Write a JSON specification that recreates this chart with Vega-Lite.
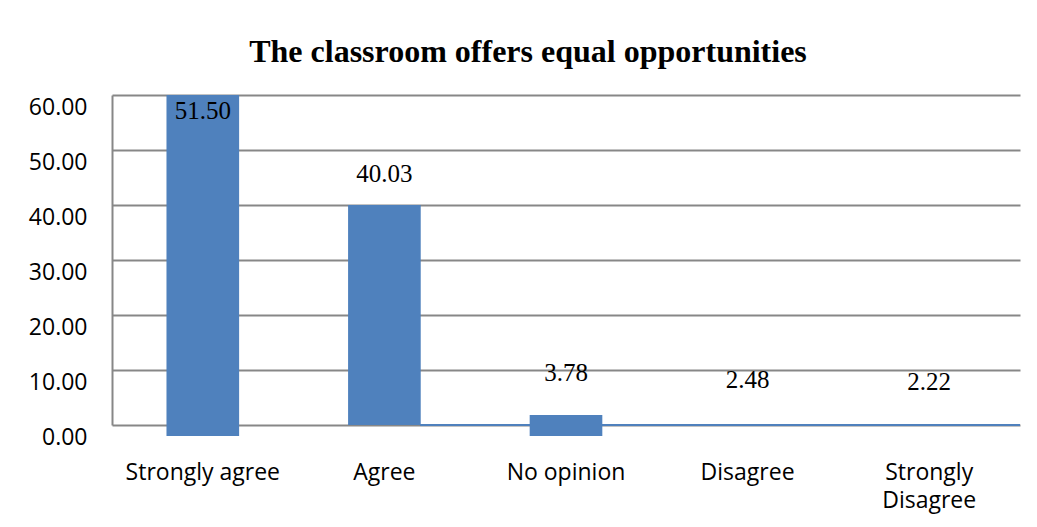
{
  "$schema": "https://vega.github.io/schema/vega-lite/v6.json",
  "width": 908,
  "height": 330,
  "autosize": {"type": "none"},
  "padding": {"left": 112, "top": 95, "right": 17, "bottom": 102},
  "background": "white",
  "title": {
    "text": "The classroom offers equal opportunities",
    "font": "Liberation Serif",
    "fontSize": 32,
    "fontWeight": "bold",
    "color": "black",
    "anchor": "middle",
    "dx": -38,
    "offset": 26
  },
  "config": {
    "view": {"stroke": null}
  },
  "data": {
    "values": [
      {"category": "Strongly agree", "value": 51.50, "top": 60, "low": -2},
      {"category": "Agree", "value": 40.03, "top": 40, "low": 0},
      {"category": "No opinion", "value": 3.78, "top": 1.8, "low": -2},
      {"category": "Disagree", "value": 2.48, "top": 0, "low": 0},
      {"category": "Strongly Disagree", "value": 2.22, "top": 0, "low": 0}
    ]
  },
  "encoding": {
    "x": {
      "field": "category",
      "type": "nominal",
      "sort": null,
      "scale": {"paddingInner": 0.6, "paddingOuter": 0.3},
      "axis": {
        "title": null,
        "domain": false,
        "ticks": false,
        "labelAngle": 0,
        "labelFont": "Open Sans",
        "labelFontSize": 23,
        "labelColor": "black",
        "labelPadding": 36,
        "labelLineHeight": 28,
        "labelExpr": "datum.label == 'Strongly Disagree' ? ['Strongly', 'Disagree'] : datum.label"
      }
    }
  },
  "layer": [
    {
      "mark": {"type": "bar", "color": "#4F81BD"},
      "encoding": {
        "y": {
          "field": "top",
          "type": "quantitative",
          "scale": {"domain": [0, 60]},
          "axis": {
            "title": null,
            "values": [0, 10, 20, 30, 40, 50, 60],
            "format": ".2f",
            "ticks": false,
            "domain": true,
            "domainColor": "#878787",
            "domainWidth": 2,
            "grid": true,
            "gridColor": "#878787",
            "gridWidth": 2,
            "gridOpacity": 1,
            "labelFont": "Open Sans",
            "labelFontSize": 23,
            "labelColor": "black",
            "labelPadding": 25,
            "labelOffset": 12
          }
        },
        "y2": {"field": "low"}
      }
    },
    {
      "mark": {"type": "rule", "color": "#4F81BD", "strokeWidth": 2},
      "encoding": {
        "x": {"datum": "Agree", "bandPosition": 1},
        "x2": {"datum": "Strongly Disagree", "bandPosition": 1.75},
        "y": {"datum": 0}
      }
    },
    {
      "mark": {
        "type": "text",
        "font": "Liberation Serif",
        "fontSize": 25,
        "color": "black",
        "baseline": "middle",
        "dy": -31
      },
      "encoding": {
        "y": {"field": "value", "type": "quantitative"},
        "text": {"field": "value", "type": "quantitative", "format": ".2f"}
      }
    }
  ]
}
